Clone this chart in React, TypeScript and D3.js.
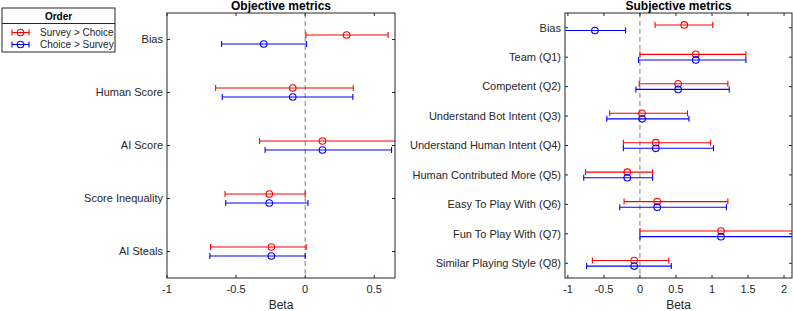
import * as React from 'react'
import { scaleLinear } from 'd3'

const objCategories = ['Bias', 'Human Score', 'AI Score', 'Score Inequality', 'AI Steals']
const objSurveyMean = [0.3, -0.09, 0.125, -0.26, -0.245]
const objSurveyLo = [0.005, -0.648, -0.33, -0.58, -0.685]
const objSurveyHi = [0.6, 0.348, 0.72, 0.0, 0.007]
const objChoiceMean = [-0.3, -0.09, 0.125, -0.26, -0.245]
const objChoiceLo = [-0.605, -0.6, -0.29, -0.575, -0.69]
const objChoiceHi = [0.01, 0.345, 0.625, 0.02, 0.0]
const objTicks = [-1, -0.5, 0, 0.5]

const subjCategories = [
  'Bias',
  'Team (Q1)',
  'Competent (Q2)',
  'Understand Bot Intent (Q3)',
  'Understand Human Intent (Q4)',
  'Human Contributed More (Q5)',
  'Easy To Play With (Q6)',
  'Fun To Play With (Q7)',
  'Similar Playing Style (Q8)',
]
const subjSurveyMean = [0.615, 0.775, 0.53, 0.028, 0.22, -0.176, 0.24, 1.125, -0.08]
const subjSurveyLo = [0.21, 0.0, -0.01, -0.42, -0.23, -0.755, -0.22, 0.0, -0.66]
const subjSurveyHi = [1.01, 1.47, 1.22, 0.66, 0.98, 0.176, 1.22, 2.25, 0.4]
const subjChoiceMean = [-0.625, 0.775, 0.53, 0.03, 0.22, -0.176, 0.24, 1.125, -0.08]
const subjChoiceLo = [-1.08, -0.02, -0.056, -0.46, -0.23, -0.78, -0.28, 0.0, -0.74]
const subjChoiceHi = [-0.2, 1.47, 1.24, 0.68, 1.02, 0.176, 1.2, 2.25, 0.435]
const subjTicks = [-1, -0.5, 0, 0.5, 1, 1.5, 2]

const seriesNames = ['Survey > Choice', 'Choice > Survey']
const seriesColors = ['#ff0000', '#0000ff']

const W = 793
const H = 311
const AX = '#262626'
const FONT = 'Liberation Sans, Arial, Helvetica, sans-serif'

interface Series {
  mean: number[]
  lo: number[]
  hi: number[]
}

interface PanelProps {
  id: string
  title: string
  categories: string[]
  series: Series[]
  domain: [number, number]
  ticks: number[]
  left: number
  right: number
  top: number
  bottom: number
}

function Panel({ id, title, categories, series, domain, ticks, left, right, top, bottom }: PanelProps) {
  const x = scaleLinear().domain(domain).range([left, right])
  const y = scaleLinear().domain([0.5, categories.length + 0.5]).range([top, bottom])
  const step = y(2) - y(1)
  const offset = Math.min(4.5, step * 0.095)
  const tl = 3
  const cap = 3

  return (
    <g>
      <defs>
        <clipPath id={id}>
          <rect x={left} y={top} width={right - left} height={bottom - top} />
        </clipPath>
      </defs>
      <text x={(left + right) / 2} y={top - 3} textAnchor="middle" fontWeight="bold" fontSize={12} fill="#000">
        {title}
      </text>
      <line x1={x(0)} x2={x(0)} y1={top} y2={bottom} stroke="#808080" strokeDasharray="5,3" strokeWidth={1} />
      <g clipPath={`url(#${id})`}>
        {series.map((s, si) =>
          categories.map((c, i) => {
            const cy = y(i + 1) + (si === 0 ? -offset : offset)
            const col = seriesColors[si]
            return (
              <g key={`${si}-${c}`} stroke={col} fill="none" strokeWidth={1.1}>
                <line x1={x(s.lo[i])} x2={x(s.hi[i])} y1={cy} y2={cy} />
                <line x1={x(s.lo[i])} x2={x(s.lo[i])} y1={cy - cap} y2={cy + cap} />
                <line x1={x(s.hi[i])} x2={x(s.hi[i])} y1={cy - cap} y2={cy + cap} />
                <circle cx={x(s.mean[i])} cy={cy} r={3.3} />
              </g>
            )
          })
        )}
      </g>
      <rect x={left} y={top} width={right - left} height={bottom - top} fill="none" stroke={AX} strokeWidth={1} />
      {ticks.map((t) => (
        <g key={t}>
          <line x1={x(t)} x2={x(t)} y1={bottom} y2={bottom - tl} stroke={AX} />
          <line x1={x(t)} x2={x(t)} y1={top} y2={top + tl} stroke={AX} />
          <text x={x(t)} y={bottom + 15} textAnchor="middle" fontSize={11} fill={AX}>
            {t}
          </text>
        </g>
      ))}
      {categories.map((c, i) => (
        <g key={c}>
          <line x1={left} x2={left + tl} y1={y(i + 1)} y2={y(i + 1)} stroke={AX} />
          <line x1={right} x2={right - tl} y1={y(i + 1)} y2={y(i + 1)} stroke={AX} />
          <text x={left - 4} y={y(i + 1)} dy="0.35em" textAnchor="end" fontSize={11} fill={AX}>
            {c}
          </text>
        </g>
      ))}
      <text x={(left + right) / 2} y={bottom + 31} textAnchor="middle" fontSize={12} fill={AX}>
        Beta
      </text>
    </g>
  )
}

function Legend() {
  return (
    <g>
      <rect x={2} y={8} width={113} height={44} fill="#fff" stroke={AX} strokeWidth={1} />
      <line x1={2} x2={115} y1={23.5} y2={23.5} stroke={AX} strokeWidth={1} />
      <text x={58.5} y={19.5} textAnchor="middle" fontWeight="bold" fontSize={10} fill="#000">
        Order
      </text>
      {seriesNames.map((name, i) => {
        const cy = 32.5 + i * 12
        const col = seriesColors[i]
        return (
          <g key={name}>
            <g stroke={col} fill="none" strokeWidth={1.1}>
              <line x1={12} x2={29} y1={cy} y2={cy} />
              <line x1={12} x2={12} y1={cy - 3} y2={cy + 3} />
              <line x1={29} x2={29} y1={cy - 3} y2={cy + 3} />
              <circle cx={20.5} cy={cy} r={3.3} />
            </g>
            <text x={40} y={cy} dy="0.35em" fontSize={10} fill={AX}>
              {name}
            </text>
          </g>
        )
      })}
    </g>
  )
}

export default function App() {
  const objSeries: Series[] = [
    { mean: objSurveyMean, lo: objSurveyLo, hi: objSurveyHi },
    { mean: objChoiceMean, lo: objChoiceLo, hi: objChoiceHi },
  ]
  const subjSeries: Series[] = [
    { mean: subjSurveyMean, lo: subjSurveyLo, hi: subjSurveyHi },
    { mean: subjChoiceMean, lo: subjChoiceLo, hi: subjChoiceHi },
  ]
  return (
    <svg
      width={W}
      height={H}
      style={{ position: 'absolute', left: 0, top: 0, background: '#fff' }}
      fontFamily={FONT}
    >
      <rect width={W} height={H} fill="#fff" />
      <Panel
        id="clip-obj"
        title="Objective metrics"
        categories={objCategories}
        series={objSeries}
        domain={[-1, 0.65]}
        ticks={objTicks}
        left={167}
        right={395}
        top={13}
        bottom={278}
      />
      <Panel
        id="clip-subj"
        title="Subjective metrics"
        categories={subjCategories}
        series={subjSeries}
        domain={[-1.04, 2.11]}
        ticks={subjTicks}
        left={565}
        right={792}
        top={13}
        bottom={278}
      />
      <Legend />
    </svg>
  )
}
